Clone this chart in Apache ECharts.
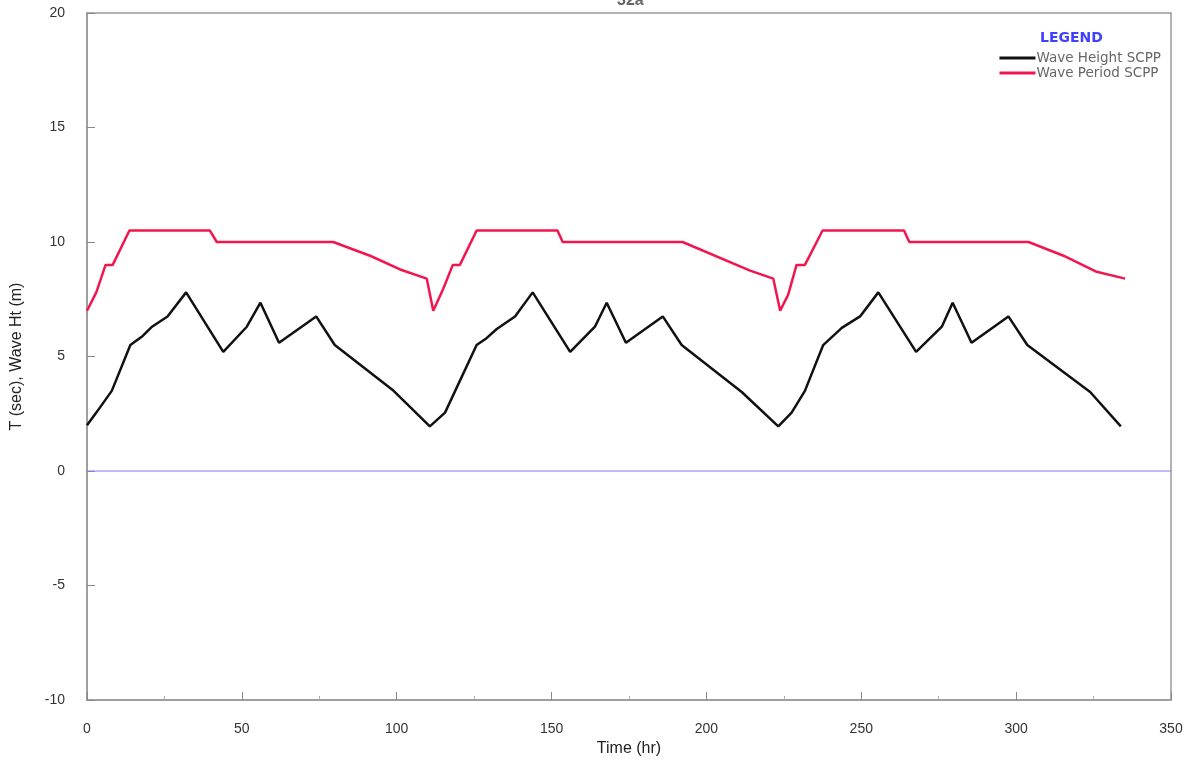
<!DOCTYPE html>
<html>
<head>
<meta charset="utf-8">
<script src="https://cdn.jsdelivr.net/npm/echarts@6/dist/echarts.min.js"></script>
<style>
html,body{margin:0;padding:0;background:#fff;}
#chart{width:1192px;height:762px;}
</style>
</head>
<body>
<div id="chart"></div>
<script>
// Wave Height SCPP: time (hr) and height (m)
const heightTime = [0, 3, 8, 14, 18, 21, 26, 32, 44, 51.6, 56, 62, 74, 80, 99, 110.7,
  115.6, 125.8, 129, 132.3, 138.2, 143.9, 156, 164, 167.8, 174, 185.9, 192, 211.4, 223.2,
  227.5, 231.8, 237.7, 243.7, 249.6, 255.5, 267.7, 276, 279.5, 285.6, 297.5, 303.6, 323.9, 333.8];
const heightValues = [2.0, 2.55, 3.5, 5.5, 5.9, 6.3, 6.75, 7.8, 5.2, 6.3, 7.35, 5.6, 6.75, 5.5, 3.5, 1.95,
  2.55, 5.5, 5.8, 6.2, 6.75, 7.8, 5.2, 6.3, 7.35, 5.6, 6.75, 5.5, 3.45, 1.95,
  2.55, 3.5, 5.5, 6.25, 6.75, 7.8, 5.2, 6.3, 7.35, 5.6, 6.75, 5.5, 3.45, 1.95];

// Wave Period SCPP: time (hr) and period (sec)
const periodTime = [0, 3, 6, 8.3, 13.7, 39.7, 41.9, 79.5, 91.4, 101.1, 109.7, 111.8,
  115, 118.1, 120.4, 125.8, 151.9, 153.6, 192.3, 214.1, 221.6, 223.8,
  226.4, 229.1, 231.8, 237.5, 263.8, 265.5, 304, 315.3, 326, 335.2];
const periodValues = [7.0, 7.8, 9.0, 9.0, 10.5, 10.5, 10.0, 10.0, 9.4, 8.8, 8.4, 7.0,
  7.95, 9.0, 9.0, 10.5, 10.5, 10.0, 10.0, 8.75, 8.4, 7.0,
  7.7, 9.0, 9.0, 10.5, 10.5, 10.0, 10.0, 9.4, 8.7, 8.4];

// zero reference line (time range and value)
const zeroTime = [0, 350];
const zeroValues = [0, 0];

const seriesNames = ['Wave Height SCPP', 'Wave Period SCPP'];
const xTicks = [0, 50, 100, 150, 200, 250, 300, 350];
const yTicks = [-10, -5, 0, 5, 10, 15, 20];

const zip = (a, b) => a.map((v, i) => [v, b[i]]);

const chart = echarts.init(document.getElementById('chart'));
chart.setOption({
  backgroundColor: '#ffffff',
  animation: false,
  title: {
    text: '32a',
    left: 612,
    top: -12,
    textStyle: {fontSize: 16, color: '#666', fontWeight: 'bold', fontFamily: 'Liberation Sans'}
  },
  graphic: [{
    type: 'text',
    left: 1040,
    top: 31,
    style: {text: 'LEGEND', fill: '#4040ff', font: 'bold 14px "DejaVu Sans"'}
  }],
  legend: {
    orient: 'vertical',
    right: 26,
    top: 46,
    itemWidth: 36,
    itemHeight: 3,
    itemGap: 1,
    icon: 'rect',
    textStyle: {fontSize: 13.5, color: '#666', fontFamily: 'DejaVu Sans', padding: [0, 0, 0, -4]},
    data: seriesNames
  },
  grid: {
    left: 87, right: 21, top: 13, bottom: 62,
    show: true, borderColor: '#999', borderWidth: 1.5, backgroundColor: 'transparent'
  },
  xAxis: {
    type: 'value',
    min: xTicks[0], max: xTicks[xTicks.length - 1], interval: 50,
    name: 'Time (hr)',
    nameLocation: 'middle',
    nameGap: 40,
    nameTextStyle: {fontSize: 16, color: '#222', fontFamily: 'Liberation Sans'},
    axisLine: {show: true, onZero: false, lineStyle: {color: '#999', width: 1.5}},
    axisTick: {show: true, inside: true, length: 8, lineStyle: {color: '#888'}},
    minorTick: {show: true, splitNumber: 2, length: 4, lineStyle: {color: '#aaa'}},
    splitLine: {show: false},
    axisLabel: {fontSize: 14, color: '#333', margin: 22, fontFamily: 'Liberation Sans'}
  },
  yAxis: {
    type: 'value',
    min: yTicks[0], max: yTicks[yTicks.length - 1], interval: 5,
    name: 'T (sec), Wave Ht (m)',
    nameLocation: 'middle',
    nameGap: 62,
    nameTextStyle: {fontSize: 16, color: '#222', fontFamily: 'Liberation Sans'},
    axisLine: {show: true, onZero: false, lineStyle: {color: '#999', width: 1.5}},
    axisTick: {show: true, inside: true, length: 8, lineStyle: {color: '#888'}},
    minorTick: {show: false},
    splitLine: {show: false},
    axisLabel: {fontSize: 14, color: '#333', margin: 22, fontFamily: 'Liberation Sans'}
  },
  series: [
    {
      name: 'zero',
      type: 'line',
      data: zip(zeroTime, zeroValues),
      showSymbol: false,
      silent: true,
      color: '#7a7aff',
      lineStyle: {color: '#7a7aff', width: 1}
    },
    {
      name: seriesNames[0],
      type: 'line',
      data: zip(heightTime, heightValues),
      showSymbol: false,
      color: '#111111',
      lineStyle: {color: '#111111', width: 2.5}
    },
    {
      name: seriesNames[1],
      type: 'line',
      data: zip(periodTime, periodValues),
      showSymbol: false,
      color: '#f2164f',
      lineStyle: {color: '#f2164f', width: 2.5}
    }
  ]
});
</script>
</body>
</html>
